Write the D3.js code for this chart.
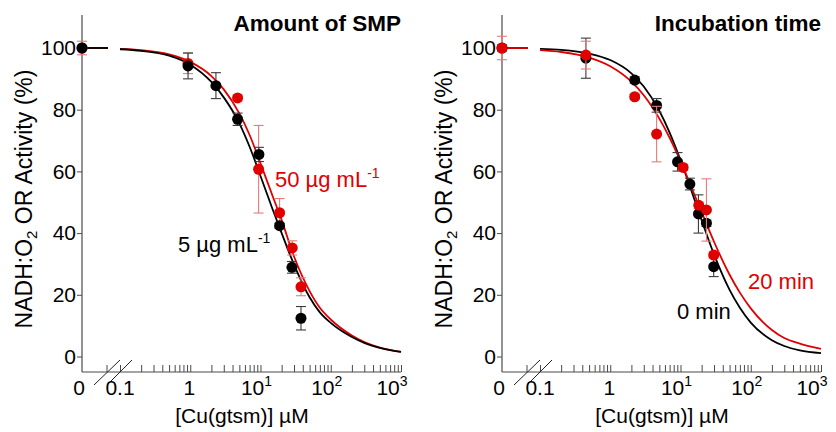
<!DOCTYPE html>
<html><head><meta charset="utf-8">
<script src="https://cdn.jsdelivr.net/npm/d3@7"></script>
<style>
html,body{margin:0;padding:0;background:#fff;}
svg text{font-family:"Liberation Sans",Arial,Helvetica,sans-serif;}
</style></head>
<body><svg id="c" width="836" height="432"></svg>
<script>
// ---------- data ----------
const panelTitles = ["Amount of SMP", "Incubation time"];
const yTicks = [0, 20, 40, 60, 80, 100];
const xMajor = [0.1, 1, 10, 100, 1000];
const xMajorLabels = [["0.1",""],["1",""],["10","1"],["10","2"],["10","3"]];
const xMinor = [0.2,0.3,0.4,0.5,0.6,0.7,0.8,0.9,2,3,4,5,6,7,8,9,20,30,40,50,60,70,80,90,200,300,400,500,600,700,800,900];

// left panel: amount of SMP
const leftBlackConc = [0, 0.93, 2.32, 4.72, 9.5, 18.7, 28, 37.7];
const leftBlackMean = [100, 94.2, 87.8, 76.9, 65.5, 42.4, 28.9, 12.4];
const leftBlackErr  = [0.6, 4.2, 4.2, 2.0, 2.3, 0.8, 1.9, 3.8];
const leftRedConc = [0, 0.93, 4.72, 9.4, 18.7, 28.3, 37.7];
const leftRedMean = [100, 95.0, 83.8, 60.7, 46.6, 35.2, 22.6];
const leftRedErr  = [2.2, 3.3, 1.0, 14.2, 4.6, 2.3, 2.9];

// right panel: incubation time
const rightBlackConc = [0, 0.45, 2.23, 4.57, 9.07, 13.6, 18.0, 23.4, 29.7];
const rightBlackMean = [100, 96.7, 89.6, 81.4, 63.1, 55.9, 46.2, 43.2, 29.1];
const rightBlackErr  = [1.0, 6.5, 1.0, 2.2, 3.0, 1.9, 6.2, 1.0, 3.2];
const rightRedConc = [0, 0.45, 2.23, 4.57, 10.9, 18.2, 23.4, 29.7];
const rightRedMean = [100, 97.7, 84.2, 72.1, 61.3, 49.0, 47.5, 32.9];
const rightRedErr  = [3.8, 4.5, 0.8, 9.0, 1.0, 1.0, 10.1, 1.0];

// fitted curves
const curveConc = [0.1, 0.2, 0.5, 1, 2, 3, 5, 7, 10, 15, 20, 30, 50, 70, 100, 200, 300, 500, 1000];
const leftBlackFit  = [99.6, 99.1, 97.5, 94.6, 89.0, 84.0, 75.6, 68.0, 58.5, 47.5, 40.0, 29.8, 19.2, 14.3, 10.9, 6.3, 4.4, 2.8, 1.5];
const leftRedFit    = [99.7, 99.3, 97.9, 95.5, 90.9, 86.6, 78.8, 71.8, 62.6, 51.8, 44.2, 32.4, 21.2, 15.8, 12.0, 6.8, 4.7, 2.9, 1.5];
const rightBlackFit = [99.7, 99.4, 98.2, 96.1, 91.8, 87.5, 79.6, 72.6, 63.7, 52.4, 44.2, 33.1, 21.6, 15.8, 11.0, 5.3, 3.4, 2.0, 1.1];
const rightRedFit   = [99.3, 98.7, 96.9, 94.1, 89.1, 84.7, 77.1, 70.9, 63.3, 53.7, 46.8, 37.2, 26.5, 20.7, 15.6, 8.6, 6.0, 4.2, 2.5];

const leftLabels  = [["50 µg mL", "-1"], ["5 µg mL", "-1"]];
const rightLabels = [["20 min", ""], ["0 min", ""]];

// ---------- drawing ----------
const RED = "#e00000", RED_ERR = "#e87a7a", BLACK = "#000", BLACK_ERR = "#3a3a3a", AXIS = "#4a4a4a";
const svg = d3.select("#c");
const labelShift = [0, -1, -4, -4, -9];

function panel(ox, cfg) {
  const g = svg.append("g").attr("transform", `translate(${ox},0)`);
  const axX = 82, axBottom = 372, axTop = 15, zeroEnd = 108;
  const x = d3.scaleLog().domain([0.1, 1000]).range([120, 401]);
  const y = d3.scaleLinear().domain([0, 100]).range([356.5, 48]);
  const xz = d3.scaleLinear().domain([0, 1]).range([axX, zeroEnd]); // zero segment
  const px = c => c === 0 ? xz(0) : x(c);

  // axis lines
  g.append("line").attr("x1", axX).attr("x2", axX).attr("y1", axTop).attr("y2", axBottom)
    .attr("stroke", AXIS).attr("stroke-width", 1.2);
  g.append("line").attr("x1", axX).attr("x2", x(1000)).attr("y1", axBottom).attr("y2", axBottom)
    .attr("stroke", AXIS).attr("stroke-width", 1.2);

  // y axis
  const ya = g.append("g").attr("transform", `translate(${axX},0)`)
    .call(d3.axisLeft(y).tickValues(yTicks).tickSize(5).tickSizeOuter(0).tickPadding(1));
  ya.select(".domain").remove();
  ya.selectAll("line").attr("stroke", AXIS);
  ya.selectAll("text").attr("font-size", 21).attr("fill", "#000").attr("font-family", null);

  // x axis ticks (inward)
  const xa = g.append("g").attr("transform", `translate(0,${axBottom})`)
    .call(d3.axisBottom(x).tickValues(xMajor.concat(xMinor)).tickSize(-7).tickSizeOuter(0).tickFormat(""));
  xa.select(".domain").remove();
  xa.selectAll("line").attr("stroke", AXIS);
  g.append("line").attr("x1", xz(1) - 1).attr("x2", xz(1) - 1).attr("y1", axBottom).attr("y2", axBottom - 7).attr("stroke", AXIS);

  // axis break marks
  [[94, 120], [107, 132]].forEach(([a, b]) => {
    g.append("line").attr("x1", a).attr("y1", 385).attr("x2", b).attr("y2", 360)
      .attr("stroke", "#222").attr("stroke-width", 1);
  });

  // x labels
  const lab = g.append("g").attr("font-size", 21).attr("fill", "#000");
  lab.append("text").attr("x", axX - 3).attr("y", 395).attr("text-anchor", "middle").text("0");
  xMajor.forEach((v, i) => {
    const t = lab.append("text").attr("x", x(v) + labelShift[i]).attr("y", 395).attr("text-anchor", "middle");
    t.append("tspan").text(xMajorLabels[i][0]);
    if (xMajorLabels[i][1]) t.append("tspan").attr("font-size", 14).attr("dy", -9).text(xMajorLabels[i][1]);
  });
  // axis titles
  g.append("text").attr("x", 242).attr("y", 423).attr("text-anchor", "middle").attr("font-size", 21)
    .text("[Cu(gtsm)] µM");

  const yt = g.append("text").attr("transform", "translate(32,199) rotate(-90)")
    .attr("text-anchor", "middle").attr("font-size", 23);
  yt.append("tspan").text("NADH:O");
  yt.append("tspan").attr("font-size", 15).attr("dy", 5).text("2");
  yt.append("tspan").attr("dy", -5).text(" OR Activity (%)");

  g.append("text").attr("x", 401).attr("y", 31).attr("text-anchor", "end")
    .attr("font-size", 22.5).attr("font-weight", "bold").text(cfg.title);

  const line = d3.line().x(d => x(d[0])).y(d => y(d[1])).curve(d3.curveMonotoneX);

  cfg.series.forEach(s => {
    g.append("line").attr("x1", xz(0)).attr("x2", xz(1)).attr("y1", y(s.mean[0])).attr("y2", y(s.mean[0]))
      .attr("stroke", s.color).attr("stroke-width", 1.8);
    g.append("path").datum(curveConc.map((c, i) => [c, s.fit[i]]))
      .attr("d", line).attr("fill", "none").attr("stroke", s.color).attr("stroke-width", 1.8);
  });
  cfg.series.forEach(s => {
    const pts = s.conc.map((c, i) => ({ c, m: s.mean[i], e: s.err[i] }));
    const eg = g.append("g").attr("stroke", s.errColor).attr("stroke-width", 1.1);
    pts.forEach(p => {
      const cx = px(p.c);
      eg.append("line").attr("x1", cx).attr("x2", cx).attr("y1", y(p.m - p.e)).attr("y2", y(p.m + p.e));
      [p.m - p.e, p.m + p.e].forEach(v => eg.append("line").attr("x1", cx - 5).attr("x2", cx + 5).attr("y1", y(v)).attr("y2", y(v)));
    });
    g.append("g").selectAll("circle").data(pts).join("circle")
      .attr("cx", p => px(p.c)).attr("cy", p => y(p.m)).attr("r", 5.5).attr("fill", s.color);
  });

  cfg.labels.forEach(l => {
    const t = g.append("text").attr("x", l.x).attr("y", l.y).attr("font-size", 22).attr("fill", l.color);
    t.append("tspan").text(l.text[0]);
    if (l.text[1]) t.append("tspan").attr("font-size", 14).attr("dy", -9).text(l.text[1]);
  });
}

panel(0, {
  title: panelTitles[0],
  series: [
    { conc: leftRedConc, mean: leftRedMean, err: leftRedErr, fit: leftRedFit, color: RED, errColor: RED_ERR },
    { conc: leftBlackConc, mean: leftBlackMean, err: leftBlackErr, fit: leftBlackFit, color: BLACK, errColor: BLACK_ERR }
  ],
  labels: [
    { text: leftLabels[0], x: 275, y: 187, color: RED },
    { text: leftLabels[1], x: 178, y: 252, color: BLACK }
  ]
});
panel(420, {
  title: panelTitles[1],
  series: [
    { conc: rightBlackConc, mean: rightBlackMean, err: rightBlackErr, fit: rightBlackFit, color: BLACK, errColor: BLACK_ERR },
    { conc: rightRedConc, mean: rightRedMean, err: rightRedErr, fit: rightRedFit, color: RED, errColor: RED_ERR }
  ],
  labels: [
    { text: rightLabels[0], x: 328, y: 289, color: RED },
    { text: rightLabels[1], x: 257, y: 319, color: BLACK }
  ]
});
</script></body></html>
